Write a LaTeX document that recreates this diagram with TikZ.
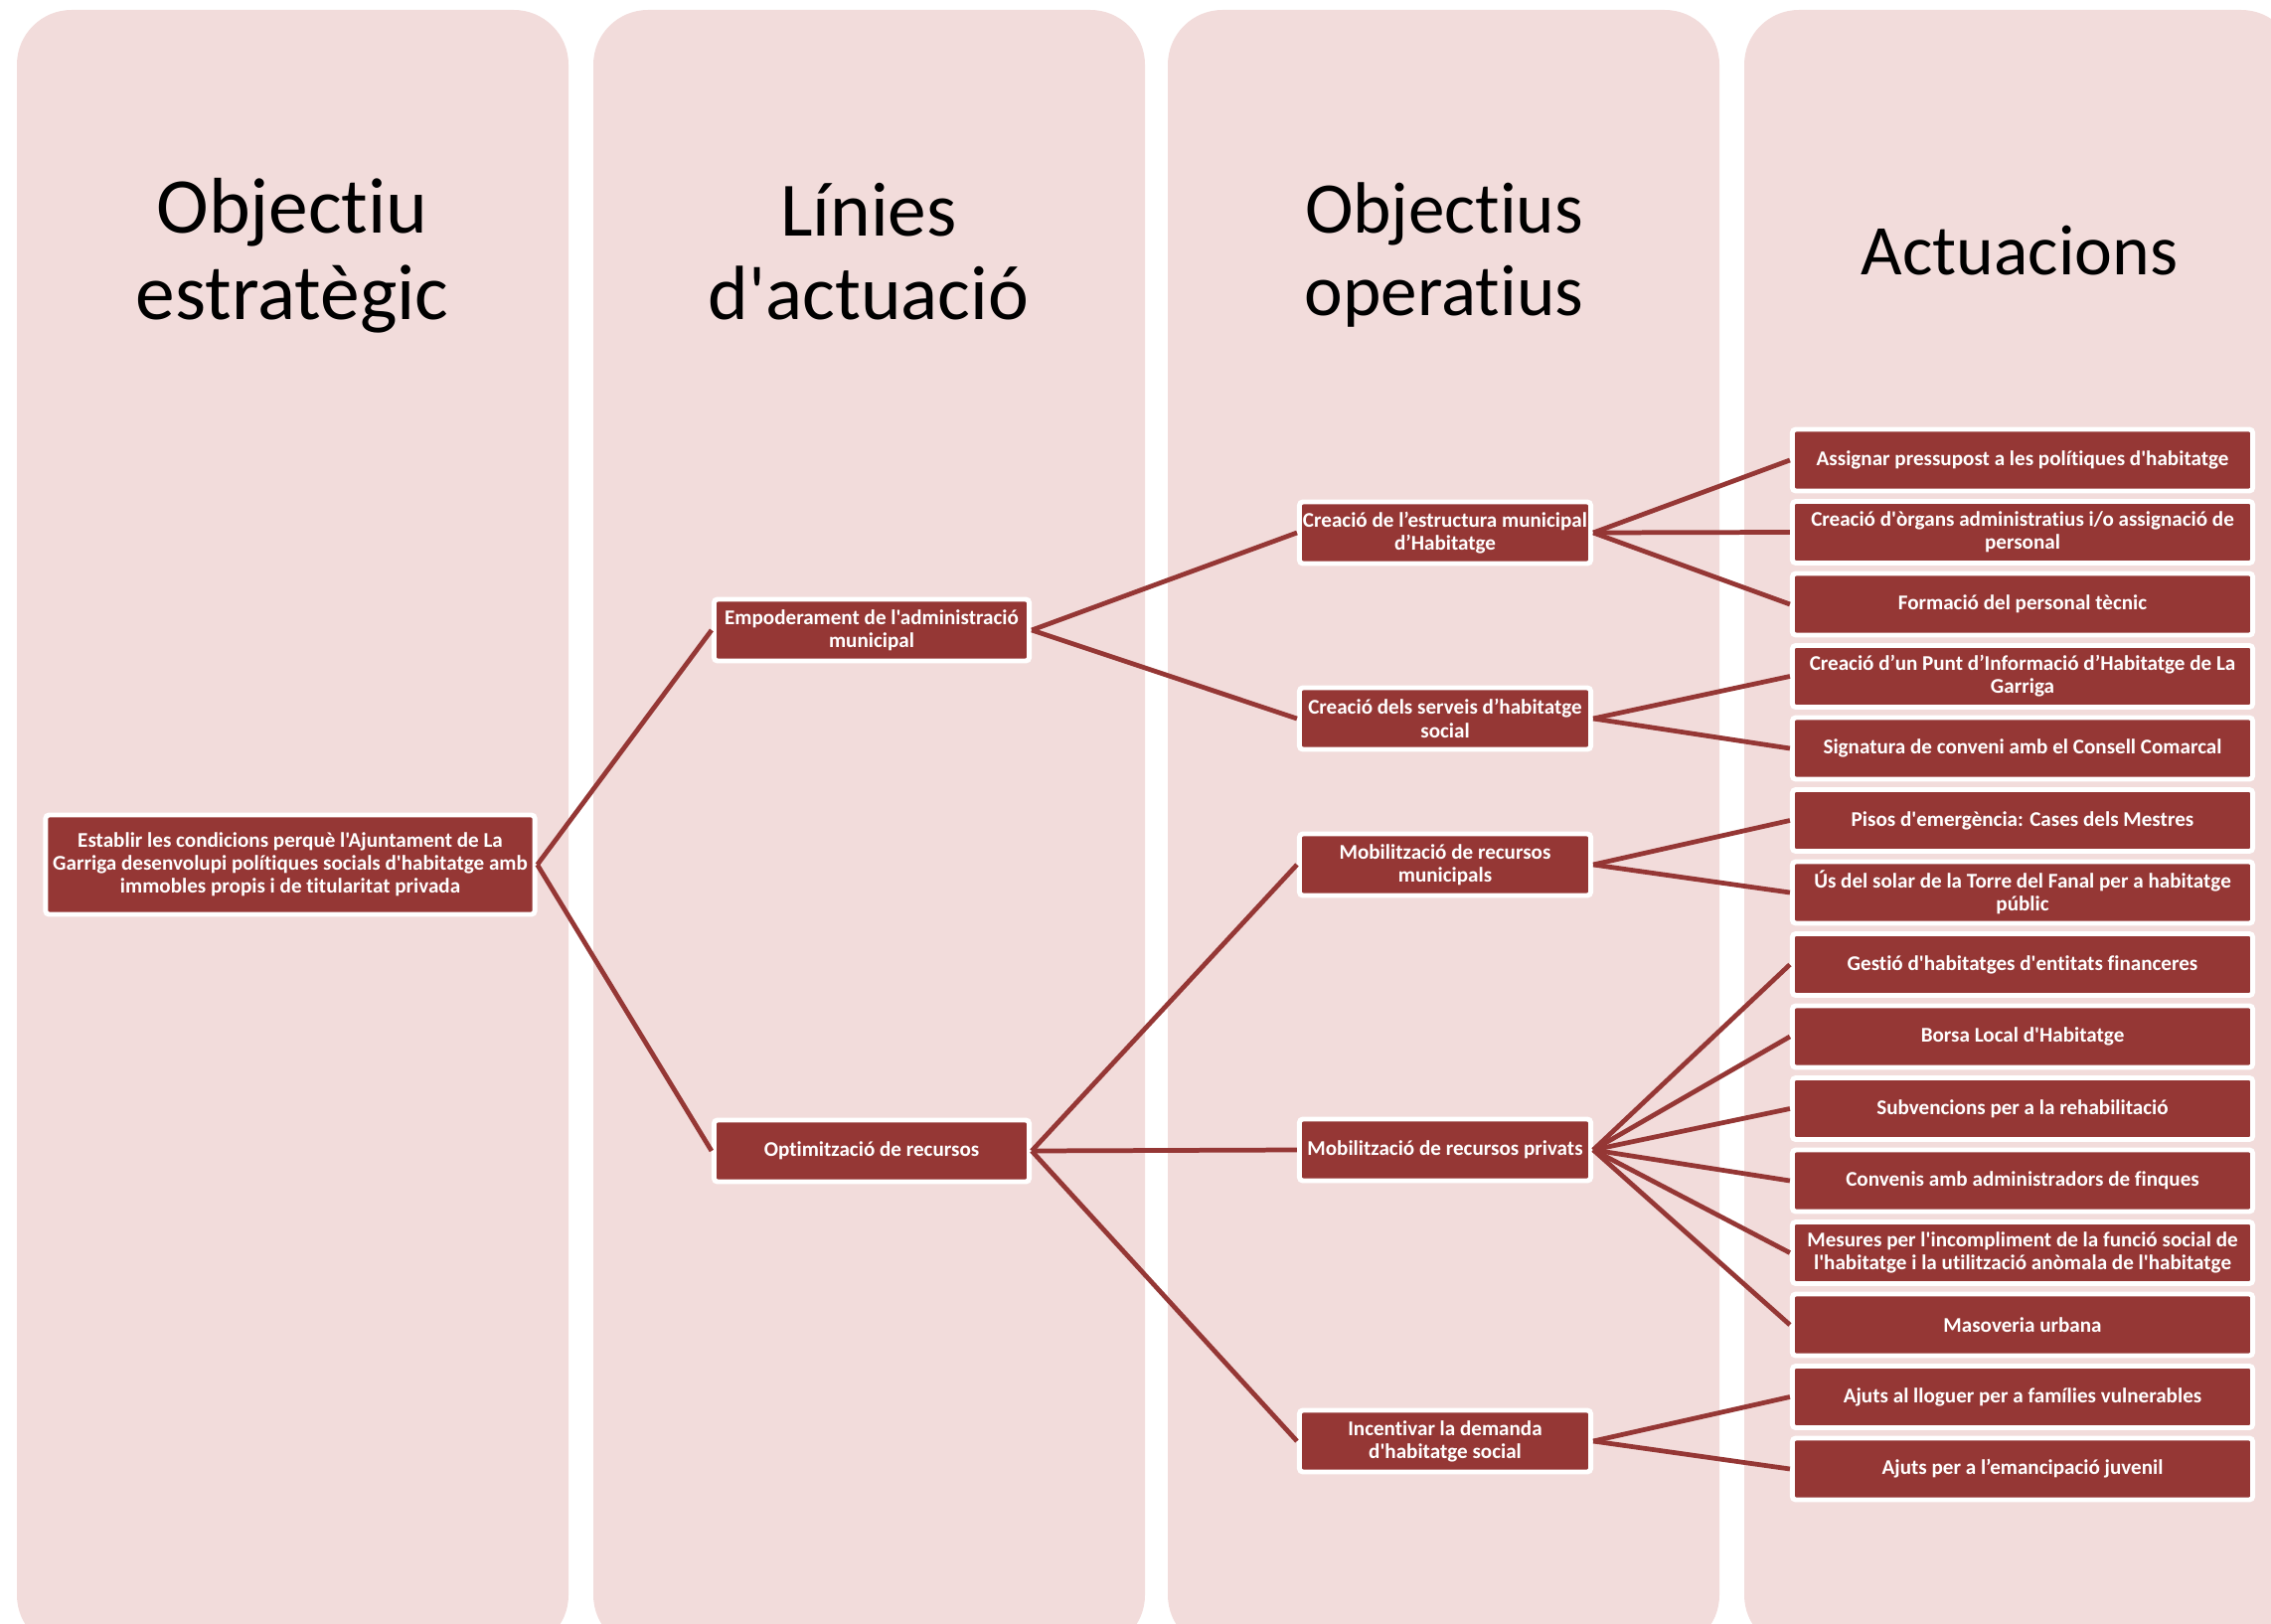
\documentclass[tikz,border=0pt]{standalone}
\usepackage{fontspec}
\newfontfamily\calibri{Carlito}[Ligatures=CommonOff]
\definecolor{rose}{HTML}{F2DCDB}
\definecolor{bordeaux}{HTML}{953735}
\tikzset{
  titre/.style 2 args={font=\calibri\fontsize{#1}{#2}\selectfont, align=center},
  boite/.style={fill=bordeaux, draw=white, line width=1.4pt, rounded corners=1pt,
    text=white, align=center, inner sep=1pt, minimum height=0.62cm,
    font=\calibri\bfseries\fontsize{6}{6.6}\selectfont},
  linia/.style={boite, minimum width=3.17cm},
  operatiu/.style={boite, minimum width=2.93cm},
  actuacio/.style={boite, minimum width=4.63cm},
  lien/.style={draw=bordeaux, line width=1.35pt}
}

\begin{document}
\begin{tikzpicture}[x=0.01cm,y=-0.01cm]
  \useasboundingbox (0,0) rectangle (2285,1634);
  % colonnes
  \foreach \x in {17,597,1175,1755} {
    \fill[rose, rounded corners=0.55cm] (\x,10) rectangle ++(555,1650);
  }
  \node[titre={22.6}{24.7}] (t1) at (294,257) {Objectiu\\estratègic};
  \node[titre={22}{24}] (t2) at (874,253) {Línies\\d'actuació};
  \node[titre={20.8}{23.6}] (t3) at (1453,257) {Objectius\\operatius};
  \node[titre={20.4}{24}] (t4) at (2032,252) {Actuacions};

  % objectiu estrategic
  \node[boite, minimum width=4.92cm, minimum height=1cm] (obj) at (292,870)
    {Establir les condicions perquè l'Ajuntament de La\\Garriga desenvolupi polítiques socials d'habitatge amb\\immobles propis i de titularitat privada};

  % linies d'actuacio
  \node[linia] (empod) at (877,634) {Empoderament de l'administració\\municipal};
  \node[linia] (optim) at (877,1158) {Optimització de recursos};

  % objectius operatius
  \node[operatiu] (estruct) at (1454,536) {Creació de l’estructura municipal\\d’Habitatge};
  \node[operatiu] (serveis) at (1454,723) {Creació dels serveis d’habitatge\\social};
  \node[operatiu] (munic) at (1454,870) {Mobilització de recursos\\municipals};
  \node[operatiu] (privats) at (1454,1157) {Mobilització de recursos privats};
  \node[operatiu] (demanda) at (1454,1450) {Incentivar la demanda\\d'habitatge social};

  % actuacions
  \foreach \i/\texte in {
      0/{Assignar pressupost a les polítiques d'habitatge},
      1/{Creació d'òrgans administratius i/o assignació de\\personal},
      2/{Formació del personal tècnic},
      3/{Creació d’un Punt d’Informació d’Habitatge de La\\Garriga},
      4/{Signatura de conveni amb el Consell Comarcal},
      5/{Pisos d'emergència: Cases dels Mestres},
      6/{Ús del solar de la Torre del Fanal per a habitatge\\públic},
      7/{Gestió d'habitatges d'entitats financeres},
      8/{Borsa Local d'Habitatge},
      9/{Subvencions per a la rehabilitació},
      10/{Convenis amb administradors de finques},
      11/{Mesures per l'incompliment de la funció social de\\l'habitatge i la utilització anòmala de l'habitatge},
      12/{Masoveria urbana},
      13/{Ajuts al lloguer per a famílies vulnerables},
      14/{Ajuts per a l’emancipació juvenil}} {
    \node[actuacio] (act\i) at (2035,463+72.5*\i) {\texte};
  }

  % connexions
  \draw[lien] (obj.east) -- (empod.west);
  \draw[lien] (obj.east) -- (optim.west);
  \draw[lien] (empod.east) -- (estruct.west);
  \draw[lien] (empod.east) -- (serveis.west);
  \draw[lien] (optim.east) -- (munic.west);
  \draw[lien] (optim.east) -- (privats.west);
  \draw[lien] (optim.east) -- (demanda.west);
  \foreach \i in {0,1,2} \draw[lien] (estruct.east) -- (act\i.west);
  \foreach \i in {3,4} \draw[lien] (serveis.east) -- (act\i.west);
  \foreach \i in {5,6} \draw[lien] (munic.east) -- (act\i.west);
  \foreach \i in {7,...,12} \draw[lien] (privats.east) -- (act\i.west);
  \foreach \i in {13,14} \draw[lien] (demanda.east) -- (act\i.west);
\end{tikzpicture}
\end{document}
